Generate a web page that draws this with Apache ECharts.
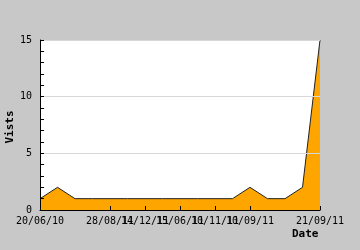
<!DOCTYPE html>
<html>
<head>
<meta charset="utf-8">
<script src="https://cdn.jsdelivr.net/npm/echarts@6/dist/echarts.min.js"></script>
<style>html,body{margin:0;padding:0;background:#c8c8c8;}#c{width:360px;height:250px;}</style>
</head>
<body>
<div id="c"></div>
<script>
const dates = ["20/06/10","03/02/11","27/03/11","05/06/11","28/08/11","20/10/11","14/12/11","10/03/11","15/06/11","01/09/11","10/11/11","05/09/11","10/09/11","12/09/11","14/09/11","18/09/11","21/09/11"];
const visits = [1,2,1,1,1,1,1,1,1,1,1,1,2,1,1,2,15];
const yTicks = [0,5,10,15];
const font = "'DejaVu Sans Mono', monospace";
const chart = echarts.init(document.getElementById('c'), null, {renderer:'canvas'});
chart.setOption({
  animation:false,
  backgroundColor:'#c8c8c8',
  grid:{left:40,right:40,top:40,bottom:40,show:true,backgroundColor:'#ffffff',borderWidth:0},
  xAxis:{type:'value',min:0,max:dates.length-1,interval:2,z:10,
    axisLine:{show:true,lineStyle:{color:'#000',width:1}},
    axisTick:{show:true,inside:true,length:4,lineStyle:{color:'#000'}},
    axisLabel:{showMinLabel:true,showMaxLabel:true,hideOverlap:false,color:'#000',fontFamily:font,fontSize:10,margin:6,
      formatter:function(v){return dates[Math.round(v)]||'';}},
    splitLine:{show:false}},
  yAxis:{type:'value',min:yTicks[0],max:yTicks[yTicks.length-1],interval:5,z:10,
    axisLine:{show:true,lineStyle:{color:'#000',width:1}},
    axisTick:{show:true,inside:true,length:4,lineStyle:{color:'#000'}},
    minorTick:{show:true,splitNumber:5,length:4,lineStyle:{color:'#000'}},
    axisLabel:{color:'#000',fontFamily:font,fontSize:10,margin:8},
    splitLine:{show:true,lineStyle:{color:'#d8d8d8',width:1}}},
  series:[{type:'line',data:visits.map(function(v,i){return [i,v];}),symbol:'none',z:2,
    lineStyle:{color:'#222',width:1},
    areaStyle:{color:'#FFA500',opacity:1}}],
  graphic:[
    {type:'text',left:292,top:229,style:{text:'Date',fontFamily:font,fontSize:11,fontWeight:'bold',fill:'#000'}},
    {type:'text',x:10,y:127,rotation:Math.PI/2,style:{text:'Vists',fontFamily:font,fontSize:11,fontWeight:'bold',fill:'#000',align:'center',verticalAlign:'middle'}}
  ]
});
</script>
</body>
</html>
